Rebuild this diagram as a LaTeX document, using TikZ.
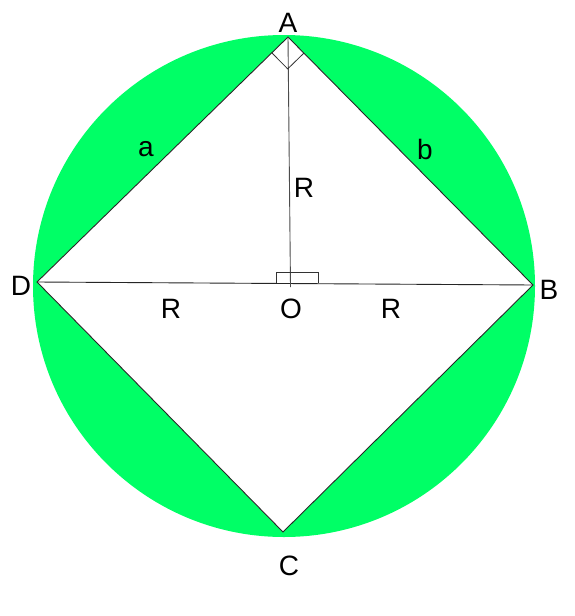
\documentclass[tikz,border=0pt]{standalone}
\usepackage{fontspec}
\setmainfont{Liberation Sans}
\definecolor{circgreen}{RGB}{0,255,102}
\begin{document}
\begin{tikzpicture}[x=1pt,y=-1pt,
  edge/.style={line width=0.9pt,black!85},
  lbl/.style={font=\fontsize{28}{32}\selectfont,inner sep=0pt,anchor=center}]
\useasboundingbox (0,0) rectangle (574,616);
\coordinate (Ctr) at (284,286);
\coordinate (A) at (288,37);
\coordinate (B) at (533,285);
\coordinate (C) at (283,532);
\coordinate (D) at (37,282);
\coordinate (O) at (290.5,287);
\fill[circgreen] (Ctr) circle[radius=251];
\fill[white] (A) -- (B) -- (C) -- (D) -- cycle;
\draw[edge] (A) -- (B) -- (C) -- (D) -- cycle;
\draw[edge] (D) -- (B);
\draw[edge,black!70] (A) -- (O);
% right angle at A
\coordinate (A1) at (271.8,52.8);
\coordinate (A2) at (287.7,68.9);
\coordinate (A3) at (303.9,53.1);
\draw[line width=0.8pt,black!80] (A1) -- (A2) -- (A3);
% right angle mark at O
\coordinate (Q1) at (276,283);
\coordinate (Q2) at (318,272);
\draw[line width=0.8pt,black!80] (Q1) |- (Q2) -- (Q2 |- Q1);
\node[lbl] (lA) at (288,22.5) {A};
\node[lbl] (lB) at (549,290) {B};
\node[lbl] (lC) at (289,566) {C};
\node[lbl] (lD) at (21,286) {D};
\node[lbl] (lO) at (291,309) {O};
\node[lbl] (lR1) at (171,309) {R};
\node[lbl] (lR2) at (391,309) {R};
\node[lbl] (lR3) at (304,188) {R};
\node[lbl] (la) at (146,149) {a};
\node[lbl] (lb) at (425,149) {b};
\end{tikzpicture}
\end{document}
